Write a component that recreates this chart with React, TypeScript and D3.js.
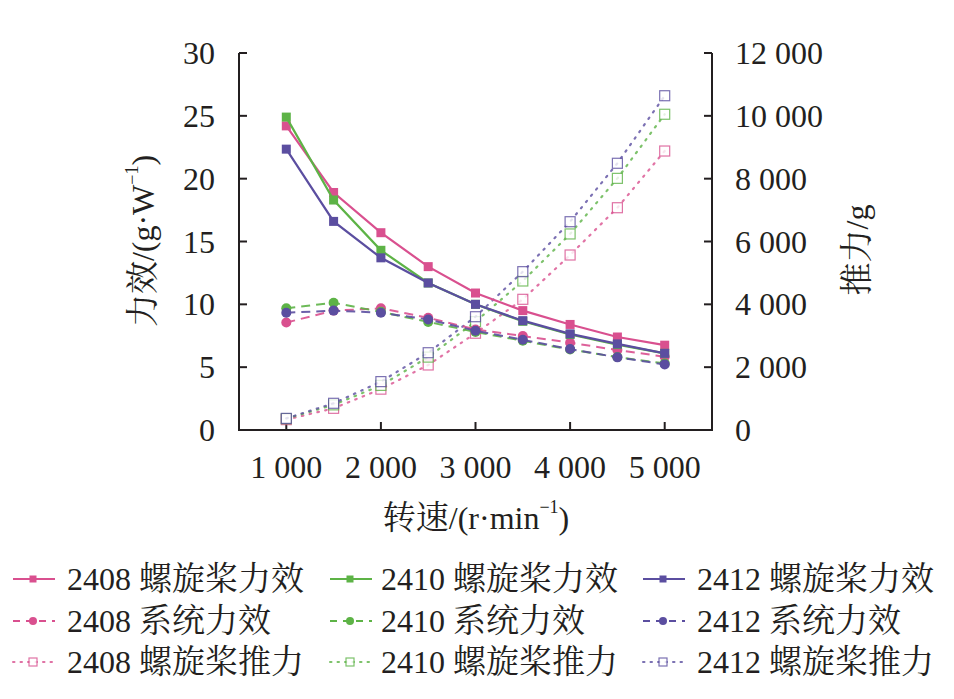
import React from "react";
import * as d3 from "d3";

const speeds = [1000, 1500, 2000, 2500, 3000, 3500, 4000, 4500, 5000];
const propellers = ["2408", "2410", "2412"];
const colors = ["#d9508f", "#5db346", "#5b4ea0"];

const propEff2408 = [24.2, 18.9, 15.7, 13.0, 10.9, 9.5, 8.4, 7.4, 6.75];
const propEff2410 = [24.9, 18.3, 14.3, 11.7, 10.0, 8.65, 7.6, 6.8, 6.1];
const propEff2412 = [22.35, 16.6, 13.7, 11.7, 10.0, 8.7, 7.65, 6.85, 6.1];

const sysEff2408 = [8.55, 9.5, 9.68, 8.93, 8.0, 7.48, 6.95, 6.36, 5.83];
const sysEff2410 = [9.68, 10.13, 9.4, 8.6, 7.8, 7.1, 6.4, 5.8, 5.3];
const sysEff2412 = [9.33, 9.5, 9.33, 8.8, 7.9, 7.18, 6.44, 5.78, 5.22];

const thrust2408 = [330, 690, 1300, 2070, 3080, 4160, 5570, 7075, 8880];
const thrust2410 = [360, 800, 1420, 2320, 3450, 4743, 6240, 8010, 10050];
const thrust2412 = [370, 850, 1540, 2460, 3606, 5040, 6630, 8490, 10640];

const leftTicks = [0, 5, 10, 15, 20, 25, 30];
const rightTicks = [0, 2000, 4000, 6000, 8000, 10000, 12000];
const xTicks = [1000, 2000, 3000, 4000, 5000];

const xTitleCn = "转速";
const xTitleUnit = "/(r·min";
const yLeftTitleCn = "力效";
const yLeftTitleUnit = "/(g·W";
const yRightTitleCn = "推力";
const yRightTitleUnit = "/g";
const seriesKinds = ["螺旋桨力效", "系统力效", "螺旋桨推力"];

const propEff = [propEff2408, propEff2410, propEff2412];
const sysEff = [sysEff2408, sysEff2410, sysEff2412];
const thrust = [thrust2408, thrust2410, thrust2412];

const fmt = (v: number) =>
  v >= 1000 ? `${Math.floor(v / 1000)} ${String(v % 1000).padStart(3, "0")}` : `${v}`;

const FONT = "'Liberation Serif', 'Times New Roman', 'Noto Serif CJK SC', 'Noto Sans CJK SC', serif";

export default function App() {
  const W = 954, H = 699;
  const x = d3.scaleLinear().domain([500, 5500]).range([239, 712]);
  const yL = d3.scaleLinear().domain([0, 30]).range([430, 53]);
  const yR = d3.scaleLinear().domain([0, 12000]).range([430, 53]);

  const lineL = d3.line<number>().x((_, i) => x(speeds[i])).y((d) => yL(d));
  const lineR = d3.line<number>().x((_, i) => x(speeds[i])).y((d) => yR(d));

  const fs = 32;
  const cfs = 33;

  return (
    <svg width={W} height={H} style={{ position: "absolute", left: 0, top: 0, background: "#fff" }} fontFamily={FONT}>
      <rect width={W} height={H} fill="#fff" />
      {/* axes */}
      <g stroke="#231f20" strokeWidth={2} fill="none">
        <line x1={239} y1={53} x2={239} y2={431} />
        <line x1={712} y1={53} x2={712} y2={431} />
        <line x1={238} y1={430} x2={713} y2={430} />
        {leftTicks.map((t) => (
          <line key={"lt" + t} x1={239} x2={247} y1={yL(t)} y2={yL(t)} />
        ))}
        {rightTicks.map((t) => (
          <line key={"rt" + t} x1={704} x2={712} y1={yR(t)} y2={yR(t)} />
        ))}
        {xTicks.map((t) => (
          <line key={"xt" + t} x1={x(t)} x2={x(t)} y1={422} y2={430} />
        ))}
      </g>
      <g fontSize={fs} fill="#231f20">
        {leftTicks.map((t) => (
          <text key={"ll" + t} x={215} y={yL(t)} textAnchor="end" dominantBaseline="central">
            {fmt(t)}
          </text>
        ))}
        {rightTicks.map((t) => (
          <text key={"rl" + t} x={735} y={yR(t)} textAnchor="start" dominantBaseline="central">
            {fmt(t)}
          </text>
        ))}
        {xTicks.map((t) => (
          <text key={"xl" + t} x={x(t)} y={467} textAnchor="middle" dominantBaseline="central">
            {fmt(t)}
          </text>
        ))}
        <text x={476} y={518} textAnchor="middle" dominantBaseline="central">
          <tspan fontSize={cfs}>{xTitleCn}</tspan>
          {xTitleUnit}
          <tspan fontSize={18} dy={-11}>−1</tspan>
          <tspan dy={11}>)</tspan>
        </text>
        <text transform="translate(143,241) rotate(-90)" textAnchor="middle" dominantBaseline="central">
          <tspan fontSize={cfs}>{yLeftTitleCn}</tspan>
          {yLeftTitleUnit}
          <tspan fontSize={18} dy={-11}>−1</tspan>
          <tspan dy={11}>)</tspan>
        </text>
        <text transform="translate(857,250) rotate(-90)" textAnchor="middle" dominantBaseline="central">
          <tspan fontSize={cfs}>{yRightTitleCn}</tspan>
          {yRightTitleUnit}
        </text>
      </g>

      {/* thrust (right axis) */}
      {thrust.map((s, k) => (
        <g key={"th" + k}>
          <path d={lineR(s) || ""} fill="none" stroke={colors[k]} strokeWidth={2.2} strokeDasharray="1.5,6.5" strokeLinecap="round" opacity={0.8} />
          {s.map((v, i) => (
            <rect key={i} x={x(speeds[i]) - 5} y={yR(v) - 5} width={10} height={10} fill="#fff" stroke={colors[k]} strokeWidth={1.2} opacity={0.8} />
          ))}
        </g>
      ))}

      {/* system efficiency */}
      {sysEff.map((s, k) => (
        <g key={"se" + k}>
          <path d={lineL(s) || ""} fill="none" stroke={colors[k]} strokeWidth={2} strokeDasharray="9,6" opacity={0.9} />
          {s.map((v, i) => (
            <circle key={i} cx={x(speeds[i])} cy={yL(v)} r={5} fill={colors[k]} />
          ))}
        </g>
      ))}

      {/* propeller efficiency */}
      {propEff.map((s, k) => (
        <g key={"pe" + k}>
          <path d={lineL(s) || ""} fill="none" stroke={colors[k]} strokeWidth={2.2} />
          {s.map((v, i) => (
            <rect key={i} x={x(speeds[i]) - 4.5} y={yL(v) - 4.5} width={9} height={9} fill={colors[k]} />
          ))}
        </g>
      ))}

      {/* legend */}
      {seriesKinds.map((kind, r) =>
        propellers.map((p, c) => {
          const lx = [13, 330, 643][c];
          const tx = [67, 381, 697][c];
          const ly = [579, 621, 662][r];
          const col = colors[c];
          const mx = lx + 20;
          return (
            <g key={r + "-" + c}>
              {r === 0 && <line x1={lx} x2={lx + 42} y1={ly} y2={ly} stroke={col} strokeWidth={2} />}
              {r === 0 && <rect x={mx - 3.5} y={ly - 3.5} width={7} height={7} fill={col} />}
              {r === 1 && <line x1={lx} x2={lx + 42} y1={ly} y2={ly} stroke={col} strokeWidth={2} strokeDasharray="7,6" />}
              {r === 1 && <circle cx={mx} cy={ly} r={4} fill={col} />}
              {r === 2 && <line x1={lx} x2={lx + 42} y1={ly} y2={ly} stroke={col} strokeWidth={2} strokeDasharray="1.5,6" strokeLinecap="round" opacity={0.8} />}
              {r === 2 && <rect x={mx - 4} y={ly - 4} width={8} height={8} fill="#fff" stroke={col} strokeWidth={1.2} opacity={0.8} />}
              <text x={tx} y={ly} fontSize={fs} fill="#231f20" dominantBaseline="central">
                {p}
                <tspan dx={8} fontSize={cfs}>{kind}</tspan>
              </text>
            </g>
          );
        })
      )}
    </svg>
  );
}
